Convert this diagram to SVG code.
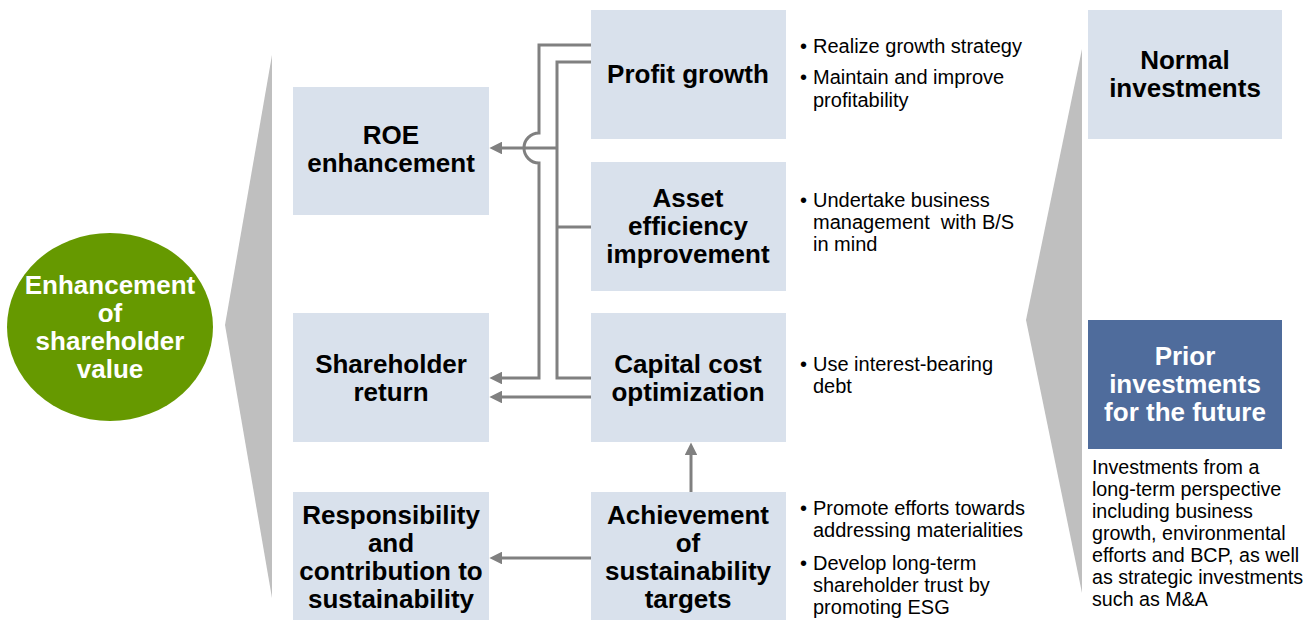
<svg xmlns="http://www.w3.org/2000/svg" width="1315" height="620" viewBox="0 0 1315 620">
<style>
.box{fill:#d9e1ec}
.bt{font-family:"Liberation Sans",Arial,sans-serif;font-weight:bold;font-size:26px;fill:#000;text-anchor:middle}
.wt{font-family:"Liberation Sans",Arial,sans-serif;font-weight:bold;font-size:26px;fill:#fff;text-anchor:middle}
.t{font-family:"Liberation Sans",Arial,sans-serif;font-size:20px;fill:#000}
.d{font-family:"Liberation Sans",Arial,sans-serif;font-size:19.7px;fill:#000}
.c{fill:none;stroke:#808080;stroke-width:3}
.wedge{fill:#bfbfbf}
</style>
<defs>
<marker id="ah" viewBox="0 0 10 10" refX="1" refY="5" markerWidth="4.3" markerHeight="4.3" orient="auto" markerUnits="strokeWidth">
<path d="M0,0 L10,5 L0,10 z" fill="#808080"/>
</marker>
</defs>
<rect width="1315" height="620" fill="#fff"/>
<polygon class="wedge" points="272,55 225,325 272,598"/>
<polygon class="wedge" points="1082,49 1026,320 1082,593"/>

<g id="center">
<ellipse cx="110" cy="327" rx="103" ry="94" fill="#669900"/>
<text class="wt"><tspan x="110" y="294">Enhancement</tspan><tspan x="110" y="322">of</tspan><tspan x="110" y="350">shareholder</tspan><tspan x="110" y="378">value</tspan></text>
</g>

<g id="roe"><rect class="box" x="293" y="87" width="196" height="128"/><text class="bt"><tspan x="391" y="144">ROE</tspan><tspan x="391" y="172">enhancement</tspan></text></g>
<g id="shareholder-return"><rect class="box" x="293" y="313" width="196" height="129"/><text class="bt"><tspan x="391" y="373">Shareholder</tspan><tspan x="391" y="401">return</tspan></text></g>
<g id="responsibility"><rect class="box" x="293" y="492" width="196" height="128"/><text class="bt"><tspan x="391" y="524">Responsibility</tspan><tspan x="391" y="552">and</tspan><tspan x="391" y="580">contribution to</tspan><tspan x="391" y="608">sustainability</tspan></text></g>

<g id="profit-growth"><rect class="box" x="591" y="10" width="195" height="129"/><text class="bt"><tspan x="688" y="83">Profit growth</tspan></text></g>
<g id="asset-efficiency"><rect class="box" x="591" y="162" width="195" height="129"/><text class="bt"><tspan x="688" y="207">Asset</tspan><tspan x="688" y="235">efficiency</tspan><tspan x="688" y="263">improvement</tspan></text></g>
<g id="capital-cost"><rect class="box" x="591" y="313" width="195" height="129"/><text class="bt"><tspan x="688" y="373">Capital cost</tspan><tspan x="688" y="401">optimization</tspan></text></g>
<g id="achievement"><rect class="box" x="591" y="492" width="195" height="128"/><text class="bt"><tspan x="688" y="524">Achievement</tspan><tspan x="688" y="552">of</tspan><tspan x="688" y="580">sustainability</tspan><tspan x="688" y="608">targets</tspan></text></g>

<g id="normal-investments"><rect class="box" x="1088" y="10" width="194" height="129"/><text class="bt"><tspan x="1185" y="69">Normal</tspan><tspan x="1185" y="97">investments</tspan></text></g>
<g id="prior-investments"><rect x="1088" y="320" width="194" height="129" fill="#4f6c9c"/><text class="wt"><tspan x="1185" y="365">Prior</tspan><tspan x="1185" y="393">investments</tspan><tspan x="1185" y="421">for the future</tspan></text></g>

<g id="notes">
<text class="t"><tspan x="800" y="53">•</tspan><tspan x="813" y="53">Realize growth strategy</tspan></text>
<text class="t"><tspan x="800" y="84">•</tspan><tspan x="813" y="84">Maintain and improve</tspan><tspan x="813" y="107">profitability</tspan></text>
<text class="t"><tspan x="800" y="207">•</tspan><tspan x="813" y="207">Undertake business</tspan><tspan x="813" y="229" xml:space="preserve">management  with B/S</tspan><tspan x="813" y="251">in mind</tspan></text>
<text class="t"><tspan x="800" y="371">•</tspan><tspan x="813" y="371">Use interest-bearing</tspan><tspan x="813" y="393">debt</tspan></text>
<text class="t"><tspan x="800" y="515">•</tspan><tspan x="813" y="515">Promote efforts towards</tspan><tspan x="813" y="537">addressing materialities</tspan></text>
<text class="t"><tspan x="800" y="570">•</tspan><tspan x="813" y="570">Develop long-term</tspan><tspan x="813" y="592">shareholder trust by</tspan><tspan x="813" y="614">promoting ESG</tspan></text>
<text class="d"><tspan x="1092" y="474">Investments from a</tspan><tspan x="1092" y="496">long-term perspective</tspan><tspan x="1092" y="518">including business</tspan><tspan x="1092" y="540">growth, environmental</tspan><tspan x="1092" y="562">efforts and BCP, as well</tspan><tspan x="1092" y="584">as strategic investments</tspan><tspan x="1092" y="606">such as M&amp;A</tspan></text>
</g>

<g id="connectors">
<path class="c" d="M591,45 H539 V133 A15,15 0 0 0 539,163 V378 H501" marker-end="url(#ah)"/>
<path class="c" d="M591,62 H557 V378 H591"/>
<path class="c" d="M591,227 H557"/>
<path class="c" d="M557,148 H501" marker-end="url(#ah)"/>
<path class="c" d="M591,397 H501" marker-end="url(#ah)"/>
<path class="c" d="M691,492 V454" marker-end="url(#ah)"/>
<path class="c" d="M591,558 H501" marker-end="url(#ah)"/>
</g>
</svg>
